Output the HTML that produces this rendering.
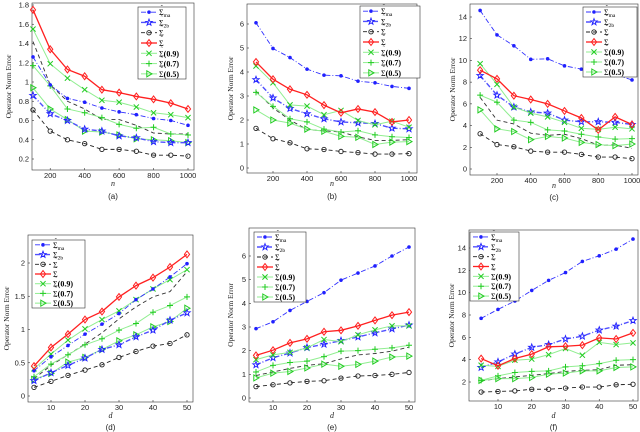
<!DOCTYPE html>
<html><head><meta charset="utf-8"><style>
body{margin:0;background:#fff}
svg{display:block;font-family:"Liberation Sans",sans-serif}
</style></head><body>
<svg id="c" width="640" height="432" viewBox="0 0 640 432"></svg>
<script>
// ---- data ----
const nVals=[100,200,300,400,500,600,700,800,900,1000];
const dVals=[5,10,15,20,25,30,35,40,45,50];
const a_ma=[1.26,0.97,0.83,0.79,0.73,0.69,0.66,0.62,0.60,0.55];
const a_2b=[0.86,0.67,0.60,0.51,0.49,0.44,0.42,0.38,0.37,0.37];
const a_hat=[0.71,0.49,0.40,0.36,0.30,0.30,0.28,0.24,0.24,0.23];
const a_dash=[1.42,0.97,0.80,0.72,0.61,0.61,0.55,0.47,0.46,0.46];
const a_red=[1.75,1.34,1.13,1.06,0.92,0.89,0.85,0.82,0.78,0.72];
const a_g9=[1.55,1.19,1.04,0.92,0.81,0.79,0.74,0.68,0.66,0.63];
const a_g7=[1.17,0.96,0.72,0.68,0.63,0.56,0.52,0.53,0.46,0.45];
const a_g5=[0.94,0.72,0.61,0.49,0.48,0.45,0.41,0.40,0.39,0.37];
const b_ma=[6.05,4.98,4.6,4.12,3.87,3.84,3.62,3.55,3.40,3.32];
const b_2b=[3.68,2.92,2.48,2.26,2.05,1.92,1.88,1.85,1.66,1.63];
const b_hat=[1.65,1.22,1.05,0.80,0.77,0.69,0.64,0.58,0.58,0.60];
const b_dash=[3.2,2.5,2.0,1.6,1.55,1.5,1.3,1.15,1.15,1.18];
const b_red=[4.42,3.70,3.28,3.05,2.62,2.30,2.46,2.33,1.92,2.00];
const b_g9=[4.25,3.55,2.63,2.58,2.22,2.40,1.98,1.80,1.95,1.70];
const b_g7=[3.15,2.57,2.05,1.92,1.62,1.50,1.55,1.38,1.30,1.27];
const b_g5=[2.42,2.00,1.87,1.62,1.53,1.32,1.28,0.98,1.08,1.10];
const c_ma=[14.6,12.35,11.35,10.1,10.15,9.5,9.2,8.9,8.7,8.2];
const c_2b=[8.6,6.8,5.7,5.25,5.15,4.5,4.35,4.35,4.3,4.1];
const c_hat=[3.25,2.25,2.05,1.65,1.55,1.55,1.35,1.1,1.1,0.95];
const c_dash=[6.6,4.5,4.15,3.3,3.1,3.2,2.8,2.2,2.2,1.9];
const c_red=[9.1,8.3,6.75,6.4,6.0,5.35,4.7,3.6,4.8,4.1];
const c_g9=[9.7,7.8,5.7,5.15,4.8,4.3,3.75,3.65,3.85,3.7];
const c_g7=[6.8,6.15,4.5,4.3,3.6,3.5,3.2,2.95,2.75,2.8];
const c_g5=[5.45,3.7,3.45,2.7,3.0,2.85,2.45,2.25,2.15,2.3];
const d_ma=[0.38,0.59,0.76,0.93,1.08,1.24,1.45,1.61,1.79,1.99];
const d_2b=[0.23,0.35,0.46,0.57,0.70,0.77,0.89,0.99,1.14,1.25];
const d_hat=[0.13,0.22,0.31,0.39,0.47,0.58,0.67,0.75,0.79,0.92];
const d_dash=[0.26,0.46,0.62,0.78,0.95,1.16,1.34,1.49,1.57,1.87];
const d_red=[0.45,0.73,0.93,1.15,1.27,1.49,1.66,1.78,1.94,2.13];
const d_g9=[0.41,0.63,0.84,1.01,1.15,1.28,1.45,1.61,1.75,1.90];
const d_g7=[0.29,0.48,0.62,0.77,0.86,0.99,1.09,1.26,1.36,1.49];
const d_g5=[0.25,0.34,0.51,0.58,0.70,0.83,0.92,1.04,1.12,1.32];
const e_ma=[2.93,3.22,3.70,4.08,4.45,4.98,5.28,5.58,6.0,6.38];
const e_2b=[1.40,1.70,1.90,2.13,2.27,2.42,2.58,2.75,2.92,3.08];
const e_hat=[0.48,0.56,0.64,0.70,0.73,0.84,0.93,0.95,1.00,1.08];
const e_dash=[0.95,1.1,1.25,1.38,1.45,1.65,1.82,1.88,1.98,2.15];
const e_red=[1.80,2.02,2.33,2.50,2.80,2.86,3.05,3.28,3.50,3.63];
const e_g9=[1.62,1.82,1.93,2.12,2.47,2.38,2.67,2.88,3.05,3.05];
const e_g7=[1.10,1.38,1.50,1.56,1.75,1.98,2.00,2.06,2.12,2.23];
const e_g5=[0.85,1.05,1.12,1.27,1.43,1.34,1.42,1.56,1.73,1.77];
const f_ma=[7.7,8.5,9.25,10.2,11.1,11.8,12.8,13.3,13.9,14.8];
const f_2b=[3.3,3.8,4.5,5.1,5.35,5.85,6.1,6.65,7.0,7.5];
const f_hat=[1.1,1.15,1.2,1.35,1.35,1.45,1.55,1.55,1.75,1.8];
const f_dash=[2.1,2.3,2.45,2.6,2.75,2.95,3.05,3.1,3.5,3.55];
const f_red=[4.1,3.45,4.1,4.5,5.15,5.2,5.3,5.95,5.85,6.4];
const f_g9=[3.5,3.4,3.95,4.05,4.45,5.0,4.4,5.55,5.35,5.5];
const f_g7=[2.15,2.55,2.85,2.95,3.0,3.35,3.45,3.65,3.95,4.0];
const f_g5=[2.15,2.3,2.3,2.4,2.7,2.8,3.0,3.0,3.3,3.35];
const nTicks=[200,400,600,800,1000];
const dTicks=[10,20,30,40,50];
const aTicks=[0.2,0.4,0.6,0.8,1,1.2,1.4,1.6,1.8];
const bTicks=[0,1,2,3,4,5,6];
const cTicks=[0,2,4,6,8,10,12,14];
const dyTicks=[0,0.5,1,1.5,2];
const eTicks=[0,1,2,3,4,5,6];
const fTicks=[2,4,6,8,10,12,14];

const NS="http://www.w3.org/2000/svg";
const svg=document.getElementById('c');
function mk(tag,attrs,parent){const e=document.createElementNS(NS,tag);for(const k in attrs)e.setAttribute(k,attrs[k]);(parent||svg).appendChild(e);return e;}

const styles=[
 {key:'ma',stroke:'#3030ff',dash:'5,2,1,2',w:0.9,m:'dot',mc:'#2020ff',name:'ma'},
 {key:'2b',stroke:'#5050ff',dash:'5,2,1,2',w:1.4,m:'star',mc:'#2020ff',name:'2b'},
 {key:'hat',stroke:'#222',dash:'4,3',w:0.9,m:'circ',mc:'#222',name:''},
 {key:'red',stroke:'#ff2020',dash:'',w:1.3,m:'diam',mc:'#ff2020',name:''},
 {key:'g9',stroke:'#90ee90',dash:'',w:1,m:'x',mc:'#22cc22',name:'(0.9)'},
 {key:'g7',stroke:'#90ee90',dash:'',w:1,m:'plus',mc:'#22cc22',name:'(0.7)'},
 {key:'g5',stroke:'#90ee90',dash:'',w:1,m:'tri',mc:'#22cc22',name:'(0.5)'}
];
function marker(g,type,x,y,c){
 const s=2.6;
 if(type==='dot') return mk('circle',{cx:x,cy:y,r:1.8,fill:c},g);
 if(type==='circ') return mk('circle',{cx:x,cy:y,r:2.2,fill:'none',stroke:c,'stroke-width':0.9},g);
 if(type==='diam') return mk('path',{d:`M${x} ${y-3.4}L${x+2.6} ${y}L${x} ${y+3.4}L${x-2.6} ${y}Z`,fill:'none',stroke:c,'stroke-width':1},g);
 if(type==='x') return mk('path',{d:`M${x-s} ${y-s}L${x+s} ${y+s}M${x-s} ${y+s}L${x+s} ${y-s}`,stroke:c,'stroke-width':1},g);
 if(type==='plus') return mk('path',{d:`M${x-3} ${y}L${x+3} ${y}M${x} ${y-3}L${x} ${y+3}`,stroke:c,'stroke-width':1},g);
 if(type==='tri') return mk('path',{d:`M${x-2.2} ${y-3}L${x+3} ${y}L${x-2.2} ${y+3}Z`,fill:'none',stroke:c,'stroke-width':1},g);
 if(type==='star'){let p='';for(let i=0;i<10;i++){const r=i%2?1.4:3.4,a=-Math.PI/2+i*Math.PI/5;p+=(i?'L':'M')+(x+r*Math.cos(a)).toFixed(2)+' '+(y+r*Math.sin(a)).toFixed(2);}return mk('path',{d:p+'Z',fill:'none',stroke:c,'stroke-width':0.9},g);}
}
function legLabel(g,x,y,st){
 const hatType=(st.key==='ma'||st.key==='2b'||st.key==='hat');
 const acc=mk('text',{x:x+2.7,y:y-5.5,'font-size':6,'text-anchor':'middle','font-family':'"Liberation Serif",serif',fill:'#000'},g);
 acc.textContent=hatType?'ˆ':'˜';
 const t=mk('text',{x:x,y:y,'font-size':8,'font-family':'"Liberation Serif",serif',fill:'#000'},g);
 t.textContent='Σ';
 if(st.key==='ma'||st.key==='2b'){const ts=mk('tspan',{dy:2,'font-size':5.5},t);ts.textContent=st.name;}
 else if(st.name){const ts=mk('tspan',{'font-weight':'bold'},t);ts.textContent=st.name;}
}
const panels=[
 {id:'a',x:nVals,s:{ma:a_ma,'2b':a_2b,hat:a_hat,dash:a_dash,red:a_red,g9:a_g9,g7:a_g7,g5:a_g5},xt:nTicks,yt:aTicks,box:[32,3,194,170],xa:[100,33,1000,188],ya:[1.8,5,0.2,159],leg:[138,7,186,79],yl:8,xl:'n',cap:'(a)',capY:[186,199]},
 {id:'b',x:nVals,s:{ma:b_ma,'2b':b_2b,hat:b_hat,dash:b_dash,red:b_red,g9:b_g9,g7:b_g7,g5:b_g5},xt:nTicks,yt:bTicks,box:[247,4,417,173],xa:[200,273,1000,409],ya:[6,24,0,168],leg:[360,6,420,78],yl:230,xl:'n',cap:'(b)',capY:[186,199]},
 {id:'c',x:nVals,s:{ma:c_ma,'2b':c_2b,hat:c_hat,dash:c_dash,red:c_red,g9:c_g9,g7:c_g7,g5:c_g5},xt:nTicks,yt:cTicks,box:[470,4,638,175],xa:[200,497,1000,632],ya:[14,17,0,169],leg:[583,7,637,77],yl:452,xl:'n',cap:'(c)',capY:[188,200]},
 {id:'d',x:dVals,s:{ma:d_ma,'2b':d_2b,hat:d_hat,dash:d_dash,red:d_red,g9:d_g9,g7:d_g7,g5:d_g5},xt:dTicks,yt:dyTicks,box:[28,235,193,402],xa:[10,51,50,187],ya:[2,263,0,396],leg:[32,240,85,308],yl:6,xl:'d',cap:'(d)',capY:[418,430]},
 {id:'e',x:dVals,s:{ma:e_ma,'2b':e_2b,hat:e_hat,dash:e_dash,red:e_red,g9:e_g9,g7:e_g7,g5:e_g5},xt:dTicks,yt:eTicks,box:[249,228,415,402],xa:[10,273,50,409],ya:[6,256,0,398],leg:[254,232,306,302],yl:230,xl:'d',cap:'(e)',capY:[418,430]},
 {id:'f',x:dVals,s:{ma:f_ma,'2b':f_2b,hat:f_hat,dash:f_dash,red:f_red,g9:f_g9,g7:f_g7,g5:f_g5},xt:dTicks,yt:fTicks,box:[469,230,638,401],xa:[10,498,50,633],ya:[14,248,2,382],leg:[470,232,519,301],yl:451,xl:'d',cap:'(f)',capY:[418,430]}
];
panels.forEach(P=>{
 const g=mk('g',{});
 
 
 const X=v=>P.xa[1]+(v-P.xa[0])*(P.xa[3]-P.xa[1])/(P.xa[2]-P.xa[0]);
 const Y=v=>P.ya[1]+(v-P.ya[0])*(P.ya[3]-P.ya[1])/(P.ya[2]-P.ya[0]);
 const [l,t,r,b]=P.box;
 const fr=mk('rect',{x:l,y:t,width:r-l,height:b-t,fill:'#fff',stroke:'#333','stroke-width':0.6},g);
 
 
 P.xt.forEach(v=>{const x=X(v);mk('line',{x1:x,x2:x,y1:b,y2:b-2,stroke:'#333','stroke-width':0.6},g);
  const tx=mk('text',{x:x,y:b+8,'font-size':7.5,'text-anchor':'middle',fill:'#222'},g);tx.textContent=v;
  });
 P.yt.forEach(v=>{const y=Y(v);mk('line',{x1:l,x2:l+2,y1:y,y2:y,stroke:'#333','stroke-width':0.6},g);
  const tx=mk('text',{x:l-3,y:y+2.5,'font-size':7.5,'text-anchor':'end',fill:'#222'},g);tx.textContent=v;
  });
 const yt=mk('text',{x:0,y:0,'font-size':7.5,'text-anchor':'middle','font-family':'"Liberation Serif",serif',fill:'#222',transform:`translate(${P.yl+3},${(t+b)/2}) rotate(-90)`},g);
 yt.textContent='Operator Norm Error';
 
 const xt=mk('text',{x:(l+r)/2,y:P.capY[0],'font-size':8,'font-style':'italic','text-anchor':'middle','font-family':'"Liberation Serif",serif',fill:'#222'},g);
 xt.textContent=P.xl;
 const cp=mk('text',{x:(l+r)/2,y:P.capY[1],'font-size':8,'text-anchor':'middle',fill:'#222'},g);
 cp.textContent=P.cap;
 const dp=mk('polyline',{points:P.x.map((v,i)=>X(v)+','+Y(P.s.dash[i])).join(' '),fill:'none',stroke:'#333','stroke-width':0.9,'stroke-dasharray':'4,3'},g);
 
 const order=['hat','g5','g7','2b','g9','ma','red'];
 order.forEach(k=>{const st=styles.find(s=>s.key===k);const vals=P.s[k];
  const pl=mk('polyline',{points:P.x.map((v,i)=>X(v)+','+Y(vals[i])).join(' '),fill:'none',stroke:st.stroke,'stroke-width':st.w,'stroke-dasharray':st.dash},g);
  
  P.x.forEach((v,i)=>{const m=marker(g,st.m,X(v),Y(vals[i]),st.mc);
   });
 });
 const [lx,ly,rx,ry]=P.leg;
 const lg=mk('g',{},g);
 
 mk('rect',{x:lx,y:ly,width:rx-lx,height:ry-ly,fill:'#fff',stroke:'#333','stroke-width':0.6},lg);
 const h=(ry-ly)/7;
 styles.forEach((st,i)=>{const y=ly+h*(i+0.5);
  const e=mk('g',{},lg);
  
  mk('line',{x1:lx+3,x2:lx+19,y1:y,y2:y,stroke:st.stroke,'stroke-width':st.w,'stroke-dasharray':st.dash},e);
  marker(e,st.m,lx+11,y,st.mc);
  legLabel(e,lx+21,y+3,st);
 });
});
</script>
</body></html>
